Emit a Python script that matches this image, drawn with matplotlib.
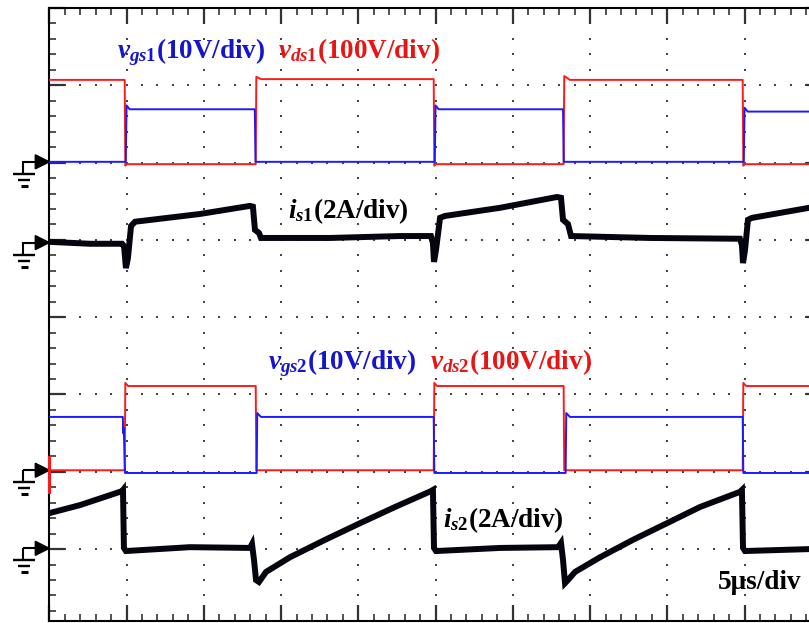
import numpy as np
import matplotlib
matplotlib.use("Agg")
from matplotlib import pyplot as plt
from matplotlib.ticker import MultipleLocator

# scope settings
t_div = 5.0      # us/div
vgs_div = 10.0   # V/div
vds_div = 100.0  # V/div
is_div = 2.0     # A/div

# ground markers, in divisions from screen centre
ch1_gnd = 2.01
is1_gnd = 0.965
ch2_gnd = -1.98
is2_gnd = -2.99

# ---- channel 1 ----
vds1_t = [0, 4.88, 4.92, 5.0, 13.36, 13.4, 13.7, 24.88, 24.92, 25.0, 33.29, 33.33, 33.7, 44.88, 44.92, 45.0, 50]
vds1_v = [106, 106, -5, -3, -3, 110, 107, 107, -5, -3, -3, 111, 106, 106, -5, -3, -3]

vgs1_t = [0, 4.95, 5.0, 5.2, 13.3, 13.35, 24.95, 25.0, 25.2, 33.25, 33.3, 44.95, 45.0, 45.2, 50]
vgs1_v = [0, 0, 7.3, 6.8, 6.8, 0, 0, 7.3, 6.8, 6.8, 0, 0, 7.0, 6.5, 6.5]

is1_t = [0, 2.63, 4.71, 4.84, 4.96, 5.09, 5.29, 5.55, 9.74, 12.99, 13.18, 13.31, 13.57, 13.7,
         18.17, 22.7, 24.7, 24.83, 24.9, 25.03, 25.29, 25.61, 29.17, 32.86, 33.12, 33.25,
         33.57, 33.77, 38.88, 44.7, 44.83, 44.9, 45.03, 45.22, 45.48, 49.17, 50]
is1_a = [0.02, -0.03, -0.03, -0.09, -0.66, -0.40, 0.43, 0.54, 0.74, 0.95, 0.93, 0.33, 0.25, 0.12,
         0.12, 0.17, 0.17, -0.01, -0.50, -0.19, 0.64, 0.69, 0.90, 1.18, 1.16, 0.59,
         0.48, 0.17, 0.12, 0.10, -0.06, -0.53, -0.19, 0.59, 0.64, 0.90, 0.92]

# ---- channel 2 ----
vds2_t = [0, 4.88, 4.92, 5.1, 13.36, 13.4, 24.88, 24.92, 25.1, 33.29, 33.33, 44.88, 44.92, 45.1, 50]
vds2_v = [0, 0, 113, 109, 109, 0, 0, 113, 109, 109, 0, 0, 113, 109, 109]

vgs2_t = [0, 4.76, 4.78, 4.82, 4.9, 13.42, 13.46, 13.7, 24.88, 24.92, 33.42, 33.46, 33.7, 44.88, 44.92, 50]
vgs2_v = [6.9, 6.9, 4.8, 5.5, -0.35, -0.35, 7.4, 6.9, 6.9, -0.35, -0.35, 7.4, 6.9, 6.9, -0.35, -0.35]

is2_t = [0, 2.0, 4.71, 4.77, 4.83, 4.96, 9.11, 12.99, 13.12, 13.25, 13.38, 13.57, 14.03, 15.58,
         17.85, 20.11, 22.38, 24.7, 24.83, 24.9, 25.03, 29.17, 32.93, 33.12, 33.25, 33.38,
         33.57, 34.03, 35.65, 37.78, 39.98, 42.12, 44.7, 44.83, 44.9, 45.03, 49.17, 50]
is2_a = [0.91, 1.12, 1.48, 1.51, 0.01, -0.07, 0.03, 0.01, 0.11, -0.30, -0.82, -0.87, -0.61, -0.23,
         0.22, 0.65, 1.07, 1.48, 1.51, 0.01, -0.07, 0.01, 0.03, 0.14, -0.30, -0.90,
         -0.82, -0.61, -0.23, 0.22, 0.65, 1.07, 1.46, 1.51, 0.01, -0.07, -0.02, -0.02]

plt.rcParams['mathtext.fontset'] = 'custom'
plt.rcParams['mathtext.rm'] = 'Liberation Serif:bold'
plt.rcParams['mathtext.it'] = 'Liberation Serif:italic:bold'
plt.rcParams['mathtext.bf'] = 'Liberation Serif:bold'

W, H = 809, 623
fig = plt.figure(figsize=(W / 100, H / 100), dpi=100)
px_div = 77.3
left_px, top_px = 49.3, 8.0
ymin, ymax = -3.93, 4.0
ax = fig.add_axes([left_px / W, (H - top_px - (ymax - ymin) * px_div) / H,
                   10 * 77.25 / W, (ymax - ymin) * px_div / H])
ax.set_xlim(0, 10 * t_div)
ax.set_ylim(ymin, ymax)

# screen frame and ticks
for s in ['left', 'top', 'bottom']:
    ax.spines[s].set_linewidth(1.5)
ax.spines['right'].set_visible(False)
ax.xaxis.set_major_locator(MultipleLocator(t_div))
ax.xaxis.set_minor_locator(MultipleLocator(t_div / 5))
ax.yaxis.set_major_locator(MultipleLocator(1))
ax.yaxis.set_minor_locator(MultipleLocator(0.2))
ax.tick_params(which='both', direction='in', top=True, bottom=True, left=True, right=True,
               labelbottom=False, labelleft=False, color='#333333')
ax.tick_params(which='major', length=11.5, width=1.6)
ax.tick_params(which='minor', length=5, width=1.2)

# dotted graticule
for xv in np.arange(t_div, 10 * t_div, t_div):
    yy = np.arange(-3.8, 3.81, 0.2)
    ax.plot(np.full_like(yy, xv), yy, ls='none', marker='s', ms=1.5, mew=0, color='#444444', zorder=1)
for yv in range(-3, 4):
    xx = np.arange(1, 10 * t_div, 1.0)
    ax.plot(xx, np.full_like(xx, yv), ls='none', marker='s', ms=1.5, mew=0, color='#444444', zorder=1)

red = '#ff1a1a'
blue = '#1a1aff'

ax.plot(vds1_t, ch1_gnd + np.array(vds1_v) / vds_div, color=red, lw=1.4, zorder=3)
ax.plot(vgs1_t, ch1_gnd + np.array(vgs1_v) / vgs_div, color=blue, lw=1.4, zorder=3)
ax.plot(is1_t, is1_gnd + np.array(is1_a) / is_div, color='#050510', lw=4.3, zorder=4,
        solid_joinstyle='miter')

ax.plot(vds2_t, ch2_gnd + np.array(vds2_v) / vds_div, color=red, lw=1.4, zorder=3)
ax.plot(vgs2_t, ch2_gnd + np.array(vgs2_v) / vgs_div, color=blue, lw=1.4, zorder=3)
ax.plot(is2_t, is2_gnd + np.array(is2_a) / is_div, color='#050510', lw=4.3, zorder=4,
        solid_joinstyle='miter')

# ground reference symbols left of the screen
ux = 10 * t_div / 772.5   # data units per pixel, x
uy = 1 / px_div           # data units per pixel, y


def ground(y0):
    kw = dict(color='black', clip_on=False, solid_capstyle='butt')
    ax.fill([0, -14 * ux, -14 * ux], [y0, y0 + 7 * uy, y0 - 7 * uy], color='black', clip_on=False)
    ax.plot([-26 * ux, -14 * ux], [y0, y0], lw=1.5, **kw)
    ax.plot([-26 * ux, -26 * ux], [y0 + 0.7 * uy, y0 - 12 * uy], lw=1.5, **kw)
    ax.plot([-36 * ux, -14 * ux], [y0 - 12 * uy, y0 - 12 * uy], lw=1.7, **kw)
    ax.plot([-31 * ux, -19 * ux], [y0 - 18 * uy, y0 - 18 * uy], lw=1.7, **kw)
    ax.plot([-28.5 * ux, -21.5 * ux], [y0 - 24 * uy, y0 - 24 * uy], lw=2.2, **kw)


for g in [ch1_gnd, is1_gnd, ch2_gnd, is2_gnd]:
    ground(g)
ax.plot([0, 0], [ch2_gnd + 13 * uy, ch2_gnd - 22 * uy], color=red, lw=2.2, clip_on=False, zorder=5)

# channel labels
fs = 19.5
tkw = dict(fontsize=fs, family='Liberation Serif', fontweight='bold', va='baseline', zorder=6)
ax.text(4.38, 3.353, r'$v_{gs1}$(10V/div)', color='#1515cc', **tkw)
ax.text(14.8, 3.353, r'$v_{ds1}$(100V/div)', color='#e81515', **tkw)
ax.text(15.45, 1.283, r'$i_{s1}$(2A/div)', color='black', **tkw)
ax.text(14.15, -0.67, r'$v_{gs2}$(10V/div)', color='#1515cc', **tkw)
ax.text(24.64, -0.67, r'$v_{ds2}$(100V/div)', color='#e81515', **tkw)
ax.text(25.48, -2.71, r'$i_{s2}$(2A/div)', color='black', **tkw)
ax.text(43.28, -3.51, '5\u03bcs/div', color='black', **tkw)

fig.savefig('out.png', dpi=100)
